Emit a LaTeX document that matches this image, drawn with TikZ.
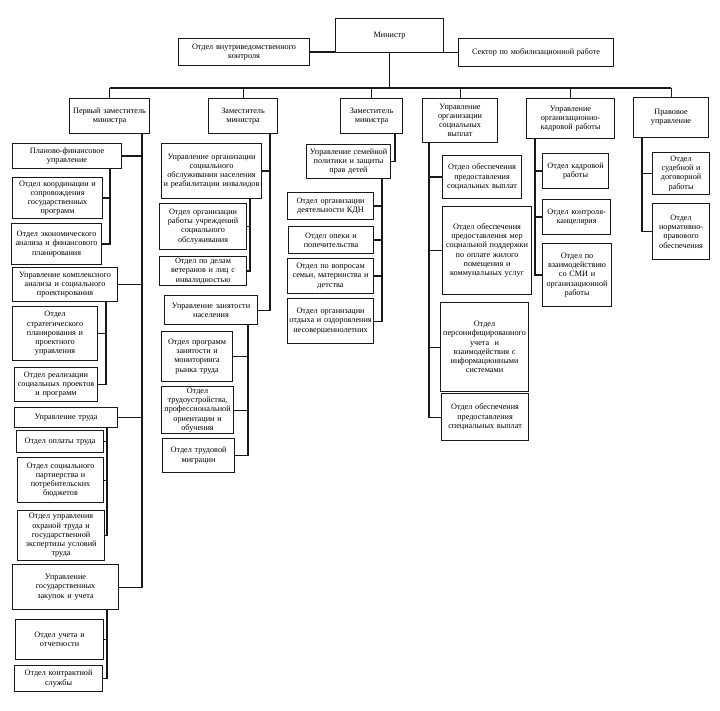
\documentclass[tikz,border=0pt]{standalone}
\usepackage{fontspec}
\setmainfont{Liberation Serif}
\newcommand\bx[6]{%
 \pgfmathsetmacro\bw{#4-#2}\pgfmathsetmacro\bh{#5-#3}%
 \node[bx,minimum width=\bw pt,minimum height=\bh pt,text width=\bw pt] (#1) at (#2,#3) {#6};}
\begin{document}
\begin{tikzpicture}[x=1pt,y=-1pt,
  bx/.style={draw=black!90,line width=1.1pt,fill=white,inner sep=0pt,align=center,
    anchor=north west,font=\fontsize{8.2}{9.2}\selectfont},
  ln/.style={draw=black!90,line width=1.1pt}]
\useasboundingbox (0,0) rectangle (720,711);
\fill[white] (0,0) rectangle (720,711);
% top
\bx{min}{335}{18}{443}{52}{Министр}
\bx{vnk}{178}{38}{309}{65}{Отдел внутриведомственного\\контроля}
\bx{smr}{458}{38}{613}{66}{Сектор по мобилизационной работе}
\bx{p1}{69}{98}{149}{133}{Первый заместитель\\министра}
\bx{z2}{208}{98}{277}{133}{Заместитель\\министра}
\bx{z3}{340}{98}{402}{133}{Заместитель\\министра}
\bx{uosv}{422}{98}{497}{142}{Управление\\организации\\социальных\\выплат}
\bx{uokr}{526}{98}{614}{138}{Управление\\организационно-\\кадровой работы}
\bx{pu}{633}{97}{708}{137}{Правовое\\управление}
% column 1
\bx{pfu}{12}{143}{121}{168}{Планово-финансовое\\управление}
\bx{oks}{12}{177}{102}{218}{Отдел координации и\\сопровождения\\государственных\\программ}
\bx{oea}{11}{223}{101}{264}{Отдел экономического\\анализа и финансового\\планирования}
\bx{uka}{12}{267}{117}{301}{Управление комплексного\\анализа и социального\\проектирования}
\bx{osp}{12}{306}{97}{360}{Отдел\\стратегического\\планирования и\\проектного\\управления}
\bx{orsp}{14}{367}{97}{401}{Отдел реализации\\социальных проектов\\и программ}
\bx{ut}{14}{407}{117}{427}{Управление труда}
\bx{oot}{16}{430}{103}{452}{Отдел оплаты труда}
\bx{ospb}{17}{457}{103}{502}{Отдел социального\\партнерства и\\потребительских\\бюджетов}
\bx{ouot}{17}{510}{104}{560}{Отдел управления\\охраной труда и\\государственной\\экспертизы условий\\труда}
\bx{ugz}{12}{564}{118}{609}{Управление\\государственных\\закупок и учета}
\bx{ouo}{15}{619}{103}{659}{Отдел учета и\\отчетности}
\bx{okc}{14}{665}{102}{691}{Отдел контрактной\\службы}
% column 2
\bx{uoso}{161}{143}{261}{198}{Управление организации\\социального\\обслуживания населения\\и реабилитации инвалидов}
\bx{orus}{159}{203}{246}{249}{Отдел организации\\работы учреждений\\социального\\обслуживания}
\bx{odv}{159}{256}{246}{285}{Отдел по делам\\ветеранов и лиц с\\инвалидностью}
\bx{uzn}{164}{295}{257}{324}{Управление занятости\\населения}
\bx{opz}{161}{331}{232}{381}{Отдел программ\\занятости и\\мониторинга\\рынка труда}
\bx{otpo}{161}{386}{233}{433}{Отдел\\трудоустройства,\\профессиональной\\ориентации и\\обучения}
\bx{otm}{162}{438}{234}{472}{Отдел трудовой\\миграции}
% column 3
\bx{usp}{306}{144}{390}{178}{Управление семейной\\политики и защиты\\прав детей}
\bx{okdn}{287}{192}{373}{219}{Отдел организации\\деятельности КДН}
\bx{oop}{288}{226}{373}{253}{Отдел опеки и\\попечительства}
\bx{osmd}{287}{258}{373}{293}{Отдел по вопросам\\семьи, материнства и\\детства}
\bx{ooon}{287}{298}{373}{343}{Отдел организации\\отдыха и оздоровления\\несовершеннолетних}
% column 4
\bx{oosv}{442}{155}{521}{198}{Отдел обеспечения\\предоставления\\социальных выплат}
\bx{oomsp}{442}{206}{531}{294}{Отдел обеспечения\\предоставления мер\\социальной поддержки\\по оплате жилого\\помещения и\\коммунальных услуг}
\bx{opu}{440}{302}{528}{391}{Отдел\\персонифицированного\\учета\ \ и\\взаимодействия с\\информационными\\системами}
\bx{oosp}{441}{393}{528}{440}{Отдел обеспечения\\предоставления\\специальных выплат}
% column 5
\bx{okr}{542}{153}{608}{188}{Отдел кадровой\\работы}
\bx{okk}{542}{199}{610}{234}{Отдел контроля-\\канцелярия}
\bx{osmi}{542}{243}{611}{306}{Отдел по\\взаимодействию\\со СМИ и\\организационной\\работы}
% column 6
\bx{osdr}{652}{152}{709}{194}{Отдел\\судебной и\\договорной\\работы}
\bx{onpo}{652}{203}{709}{259}{Отдел\\нормативно-\\правового\\обеспечения}
% connectors top
\draw[ln] (vnk.east) -- (vnk.east -| min.west);
\draw[ln] (smr.west) -- (smr.west -| min.east);
\coordinate (bus) at (0,88);
\draw[ln] (min.south) -- (min.south |- bus);
\draw[ln] (p1.north |- bus) -- (pu.north |- bus);
\foreach \n in {p1,z2,z3,uosv,uokr,pu} \draw[ln] (\n.north) -- (\n.north |- bus);
% column 1
\coordinate (t1) at (142,133);
\draw[ln] (t1) |- (ugz.east);
\foreach \n in {pfu,uka,ut} \draw[ln] (\n.east) -- (\n.east -| t1);
\coordinate (s1) at (110,168);
\draw[ln] (s1) |- (oea.east);
\draw[ln] (oks.east) -- (oks.east -| s1);
\coordinate (s2) at (106,301);
\draw[ln] (s2) |- (orsp.east);
\draw[ln] (osp.east) -- (osp.east -| s2);
\coordinate (s3) at (107,427);
\draw[ln] (s3) |- (ouot.east);
\foreach \n in {oot,ospb} \draw[ln] (\n.east) -- (\n.east -| s3);
\coordinate (s4) at (107,609);
\draw[ln] (s4) |- (okc.east);
\draw[ln] (ouo.east) -- (ouo.east -| s4);
% column 2
\coordinate (t2) at (270,133);
\draw[ln] (t2) |- (uzn.east);
\draw[ln] (uoso.east) -- (uoso.east -| t2);
\coordinate (s5) at (250,198);
\draw[ln] (s5) |- (odv.east);
\draw[ln] (orus.east) -- (orus.east -| s5);
\coordinate (s6) at (248,324);
\draw[ln] (s6) |- (otm.east);
\foreach \n in {opz,otpo} \draw[ln] (\n.east) -- (\n.east -| s6);
% column 3
\coordinate (t3) at (395,133);
\draw[ln] (t3) |- (usp.east);
\coordinate (s7) at (382,178);
\draw[ln] (s7) |- (ooon.east);
\foreach \n in {okdn,oop,osmd} \draw[ln] (\n.east) -- (\n.east -| s7);
% column 4
\coordinate (t4) at (429,142);
\draw[ln] (t4) |- (oosp.west);
\foreach \n in {oosv,oomsp,opu} \draw[ln] (\n.west) -- (\n.west -| t4);
% column 5
\coordinate (t5) at (535,138);
\draw[ln] (t5) |- (osmi.west);
\foreach \n in {okr,okk} \draw[ln] (\n.west) -- (\n.west -| t5);
% column 6
\coordinate (t6) at (642,137);
\draw[ln] (t6) |- (onpo.west);
\draw[ln] (osdr.west) -- (osdr.west -| t6);
\end{tikzpicture}
\end{document}
